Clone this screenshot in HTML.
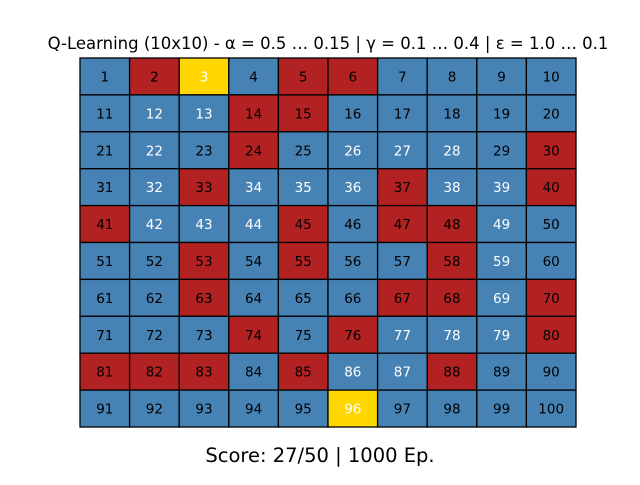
<!DOCTYPE html>
<html><head><meta charset="utf-8"><style>
body{margin:0;background:#fff;width:640px;height:480px;overflow:hidden;font-family:"Liberation Sans","DejaVu Sans",sans-serif}
</style></head><body>
<svg width="640" height="480">
<text x="328" y="49" text-anchor="middle" font-size="16.5" font-family="DejaVu Sans, sans-serif">Q-Learning (10x10) - α = 0.5 … 0.15 | γ = 0.1 … 0.4 | ε = 1.0 … 0.1</text>
<g id="grid"></g>
<text x="320" y="462" text-anchor="middle" font-size="19.5" font-family="DejaVu Sans, sans-serif">Score: 27/50 | 1000 Ep.</text>
</svg>
<script>
const cellTypes = [
"brybrrbbbb","bbbrrbbbbb","bbbrbbbbbr","bbrbbbrbbr","rbbbrbrrbb",
"bbrbrbbrbb","bbrbbbrrbr","bbbrbrbbbr","rrrbrbbrbb","bbbbbybbbb"];
const whiteLabels = [3,12,13,22,26,27,28,32,34,35,36,38,39,42,43,44,49,59,69,77,78,79,86,87,96];
const colors = {b:"#4682b4", r:"#b22222", y:"#ffd700"};
const x0=80, y0=58, W=496, H=369, n=10;
const xs = c => x0 + c*W/n, ys = r => y0 + r*H/n;
const g = document.getElementById('grid');
const NS="http://www.w3.org/2000/svg";
for(let r=0;r<n;r++)for(let c=0;c<n;c++){
  const t=cellTypes[r][c], num=r*n+c+1;
  const rect=document.createElementNS(NS,'rect');
  rect.setAttribute('x',xs(c));rect.setAttribute('y',ys(r));
  rect.setAttribute('width',W/n);rect.setAttribute('height',H/n);
  rect.setAttribute('fill',colors[t]);rect.setAttribute('stroke','#000');rect.setAttribute('stroke-width','1.3');
  
  
  g.appendChild(rect);
  const tx=document.createElementNS(NS,'text');
  tx.setAttribute('x',xs(c)+W/n/2);tx.setAttribute('y',ys(r)+H/n/2+5);
  tx.setAttribute('text-anchor','middle');tx.setAttribute('font-size','13.5');
  tx.setAttribute('font-family','DejaVu Sans, sans-serif');
  tx.setAttribute('fill',whiteLabels.includes(num)?'#fff':'#000');
  tx.textContent=num;
  
  
  g.appendChild(tx);
}
</script>
</body></html>
